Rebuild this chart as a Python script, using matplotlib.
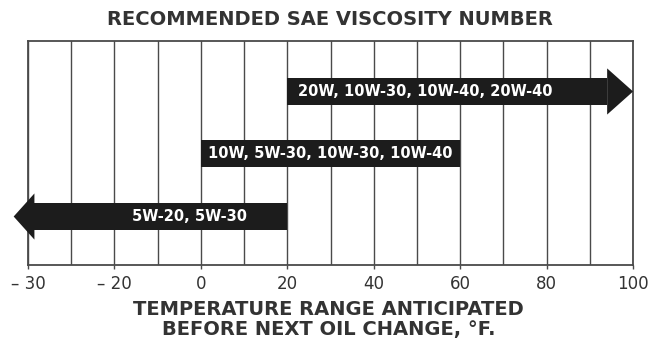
import numpy as np
import matplotlib
matplotlib.use('Agg')
import matplotlib.pyplot as plt

# oil grades and the temperature span (deg F) each one covers
grades = ['20W, 10W-30, 10W-40, 20W-40', '10W, 5W-30, 10W-30, 10W-40', '5W-20, 5W-30']
temp_lo = [20, 0, -40]
temp_hi = [100, 60, 20]
open_lo = [False, False, True]
open_hi = [True, False, False]
row_y = [0.775, 0.498, 0.217]

tick_pos = [-40, -20, 0, 20, 40, 60, 80, 100]
tick_labels = ['\u2013 30', '\u2013 20', '0', '20', '40', '60', '80', '100']

bar_color = '#1c1c1c'
line_color = '#4a4a4a'
text_color = '#333333'

fig = plt.figure(figsize=(6.65, 3.54), dpi=100)
ax = fig.add_axes([0.042, 0.251, 0.910, 0.633])
ax.set_xlim(-40, 100)
ax.set_ylim(0, 1)

half = 0.062
head_half = 0.103
for name, lo, hi, olo, ohi, y in zip(grades, temp_lo, temp_hi, open_lo, open_hi, row_y):
    body_lo, body_hi = lo, hi
    if ohi:
        body_hi = hi - 6
        ax.fill([body_hi, hi, body_hi], [y - head_half, y, y + head_half],
                color=bar_color, clip_on=False, zorder=3, lw=0)
    if olo:
        body_lo = lo + 1.5
        ax.fill([body_lo, lo - 3.3, body_lo], [y - head_half, y, y + head_half],
                color=bar_color, clip_on=False, zorder=3, lw=0)
    ax.fill([min(lo, body_lo), body_hi, body_hi, min(lo, body_lo)],
            [y - half, y - half, y + half, y + half],
            color=bar_color, clip_on=False, zorder=3, lw=0)
    if ohi:
        ax.text(lo + 2.5, y, name, color='white', fontsize=10.5, fontweight='bold',
                ha='left', va='center', zorder=4)
    elif olo:
        ax.text(hi - 9.3, y, name, color='white', fontsize=10.5, fontweight='bold',
                ha='right', va='center', zorder=4)
    else:
        ax.text((lo + hi) / 2, y, name, color='white', fontsize=10.5, fontweight='bold',
                ha='center', va='center', zorder=4)

# vertical grid every 10 degrees
ax.set_xticks(np.arange(-40, 101, 10), minor=True)
ax.set_xticks(tick_pos)
ax.set_xticklabels(tick_labels, fontsize=12, color=text_color)
ax.set_yticks([])
ax.grid(True, which='both', axis='x', color=line_color, lw=1.0)
ax.tick_params(axis='x', which='major', length=3, width=1.0, color=line_color, pad=4)
ax.tick_params(axis='x', which='minor', length=0)
for s in ax.spines.values():
    s.set_color(line_color)
    s.set_linewidth(1.3)

fig.text(0.496, 0.946, 'RECOMMENDED SAE VISCOSITY NUMBER', ha='center', va='center',
         fontsize=14, fontweight='bold', color=text_color)
fig.text(0.494, 0.097, 'TEMPERATURE RANGE ANTICIPATED\nBEFORE NEXT OIL CHANGE, \u00b0F.',
         ha='center', va='center', fontsize=14, fontweight='bold', color=text_color,
         linespacing=1.05)

fig.savefig('out.png', dpi=100, facecolor='white')
